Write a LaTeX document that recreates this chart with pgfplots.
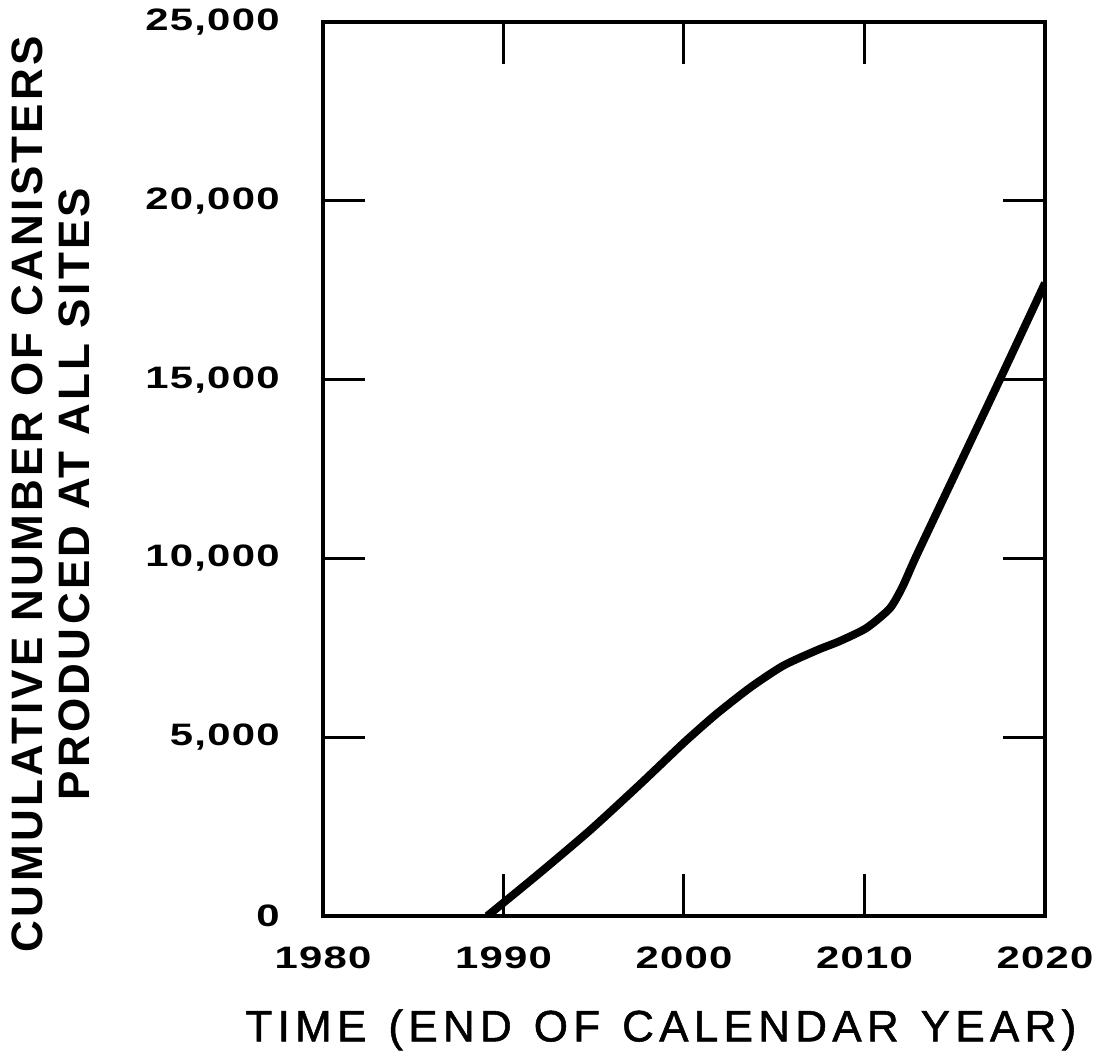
\documentclass[border=0pt]{standalone}
\usepackage{fontspec}
\setmainfont{Liberation Sans}
\newfontfamily\tickfont[FakeStretch=1.35,LetterSpace=4]{Liberation Sans}
\newfontfamily\xlabfont[LetterSpace=12,FakeBold=1.2]{Liberation Sans}
\newfontfamily\ylabfont[LetterSpace=7.5]{Liberation Sans}
\usepackage{pgfplots}
\pgfplotsset{compat=1.18}
\begin{document}
\begin{tikzpicture}
\path[use as bounding box] (-161.5pt,-73.5pt) rectangle (387.5pt,458pt);
\begin{axis}[
  scale only axis,
  width=361pt, height=447pt,
  xmin=1980, xmax=2020, ymin=0, ymax=25000,
  xtick={1980,1990,2000,2010,2020},
  xticklabels={1980,1990,2000,2010,2020},
  ytick={0,5000,10000,15000,20000,25000},
  yticklabels={0,{5,000},{10,000},{15,000},{20,000},{25,000}},
  tick align=inside,
  major tick length=21pt,
  xtick pos=both, ytick pos=both,
  axis line style={line width=2pt},
  every tick/.style={black, line width=1.5pt},
  xticklabel style={font=\tickfont\bfseries\fontsize{15.5}{17}\selectfont, anchor=north, yshift=-12pt},
  yticklabel style={font=\tickfont\bfseries\fontsize{15.5}{17}\selectfont, anchor=east, inner sep=0pt, xshift=-21.5pt},
  xlabel={TIME\hspace{0.5em}(END\hspace{0.5em}OF\hspace{0.5em}CALENDAR\hspace{0.5em}YEAR)},
  xlabel style={font=\xlabfont\fontsize{22}{24}\selectfont, at={(axis description cs:0.468,-0.1275)}, anchor=center},
  ylabel={CUMULATIVE NUMBER OF CANISTERS\\PRODUCED AT ALL SITES},
  ylabel style={font=\ylabfont\bfseries\fontsize{22}{23.5}\selectfont, align=center, at={(axis description cs:-0.377,0.472)}, anchor=center},
]
\addplot[black, line width=4pt, smooth, tension=0.4] coordinates {
(1989.1,0)
(1992,1200)
(1994.8,2400)
(1997.6,3700)
(2000,4850)
(2001.8,5650)
(2003.7,6400)
(2005.5,7000)
(2007.4,7440)
(2008.6,7680)
(2010.1,8050)
(2011.4,8600)
(2012.1,9200)
(2012.9,10100)
(2015.2,12550)
(2017.5,15000)
(2020,17700)
};
\end{axis}
\end{tikzpicture}
\end{document}
